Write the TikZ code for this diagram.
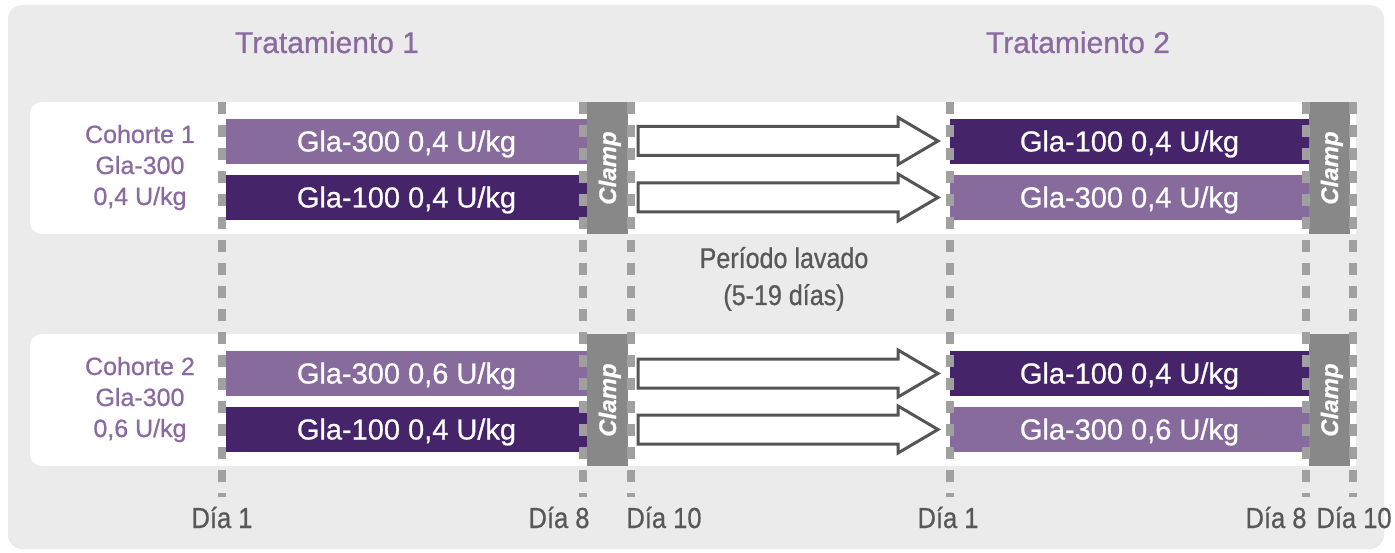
\documentclass[tikz,border=0pt]{standalone}
\usepackage{fontspec}
\setmainfont{Liberation Sans}[FakeBold=0.7]
\newfontfamily\condfont{Liberation Sans}[FakeBold=0.7, FakeStretch=0.88]
\definecolor{panel}{HTML}{EBEBEB}
\definecolor{lpurp}{HTML}{876B9C}
\definecolor{dpurp}{HTML}{45246A}
\definecolor{tpurp}{HTML}{8A6AA0}
\definecolor{clampgray}{HTML}{888888}
\definecolor{dashgray}{HTML}{A0A0A0}
\definecolor{txtgray}{HTML}{585858}
\definecolor{arrowgray}{HTML}{555555}
\newcommand\titlefnt{\fontsize{30}{36}\selectfont}
\newcommand\bartxt{\fontsize{29}{34}\selectfont}
\newcommand\cohfnt{\fontsize{25}{30}\selectfont}
\newcommand\washfnt{\condfont\fontsize{28.5}{32}\selectfont}
\newcommand\dayfnt{\condfont\fontsize{29}{32}\selectfont}
\newcommand\clampfnt{\fontsize{24}{28}\selectfont\bfseries\itshape}
\begin{document}
\begin{tikzpicture}[x=1pt,y=-1pt,
  barbase/.style={text=white, minimum width=361, minimum height=45, inner sep=0pt,
    font=\bartxt, text height=20pt, text depth=0pt},
  barlight/.style={barbase, fill=lpurp},
  bardark/.style={barbase, fill=dpurp},
  clampbox/.style={fill=clampgray, text=white, minimum width=132, minimum height=41,
    inner sep=0pt, rotate=90, font=\clampfnt, text height=17pt, text depth=0pt},
  dashline/.style={draw=dashgray, line width=8pt, dash pattern=on 12pt off 11pt},
  hollow/.style={draw=arrowgray, fill=white, line width=3pt, line join=miter},
  titletext/.style={text=tpurp, font=\titlefnt, anchor=base, inner sep=0pt},
  cohtext/.style={text=tpurp, font=\cohfnt, anchor=base, inner sep=0pt},
  washtext/.style={text=txtgray, font=\washfnt, anchor=base, inner sep=0pt},
  daytext/.style={text=txtgray, font=\dayfnt, anchor=base, inner sep=0pt}]
\useasboundingbox (0,0) rectangle (1395,553);
% panel
\fill[panel, rounded corners=14pt] (8,5) rectangle (1384,549);
% white bands
\foreach \yo in {0,232}{
  \fill[white, rounded corners=12pt] (30,102+\yo) rectangle (1356,234+\yo);
  \fill[white] (1300,102+\yo) rectangle (1356,234+\yo);
}
% titles
\node[titletext] (t1) at (327,53) {Tratamiento 1};
\node[titletext] (t2) at (1078,53) {Tratamiento 2};
% cohort labels
\node[cohtext] (c1a) at (140,143) {Cohorte 1};
\node[cohtext] (c1b) at (140,174) {Gla-300};
\node[cohtext] (c1c) at (140,205) {0,4 U/kg};
\node[cohtext] (c2a) at (140,375) {Cohorte 2};
\node[cohtext] (c2b) at (140,406) {Gla-300};
\node[cohtext] (c2c) at (140,437) {0,6 U/kg};
% bars, treatment 1
\node[barlight] (b11) at (406.5,141.5) {Gla-300 0,4 U/kg};
\node[bardark]  (b12) at (406.5,197.5) {Gla-100 0,4 U/kg};
\node[barlight] (b21) at (406.5,373.5) {Gla-300 0,6 U/kg};
\node[bardark]  (b22) at (406.5,429.5) {Gla-100 0,4 U/kg};
% bars, treatment 2
\node[bardark, minimum width=359]  (d11) at (1129.5,141.5) {Gla-100 0,4 U/kg};
\node[barlight, minimum width=359] (d12) at (1129.5,197.5) {Gla-300 0,4 U/kg};
\node[bardark, minimum width=359]  (d21) at (1129.5,373.5) {Gla-100 0,4 U/kg};
\node[barlight, minimum width=359] (d22) at (1129.5,429.5) {Gla-300 0,6 U/kg};
% clamp boxes
\node[clampbox] (k11) at (607.5,168) {Clamp};
\node[clampbox] (k21) at (607.5,400) {Clamp};
\node[clampbox] (k12) at (1329.5,168) {Clamp};
\node[clampbox] (k22) at (1329.5,400) {Clamp};
% dashed day lines
\foreach \xx in {222,583,631,950,1306,1353}{
  \draw[dashline] (\xx,102) -- (\xx,497);
}
% hollow arrows (washout)
\foreach \yc in {141,197.5,373.5,429.5}{
  \draw[hollow] (638,\yc-14.5) -- (898,\yc-14.5) -- (898,\yc-23.5) -- (938,\yc)
    -- (898,\yc+23.5) -- (898,\yc+14.5) -- (638,\yc+14.5) -- cycle;
}
% washout text
\node[washtext] (w1) at (784,268) {Período lavado};
\node[washtext] (w2) at (784,305) {(5-19 días)};
% day labels
\node[daytext] (dA) at (222,528) {Día 1};
\node[daytext] (dB) at (559,528) {Día 8};
\node[daytext] (dC) at (664,528) {Día 10};
\node[daytext] (dD) at (948,528) {Día 1};
\node[daytext] (dE) at (1276,528) {Día 8};
\node[daytext] (dF) at (1354,528) {Día 10};
\end{tikzpicture}
\end{document}
